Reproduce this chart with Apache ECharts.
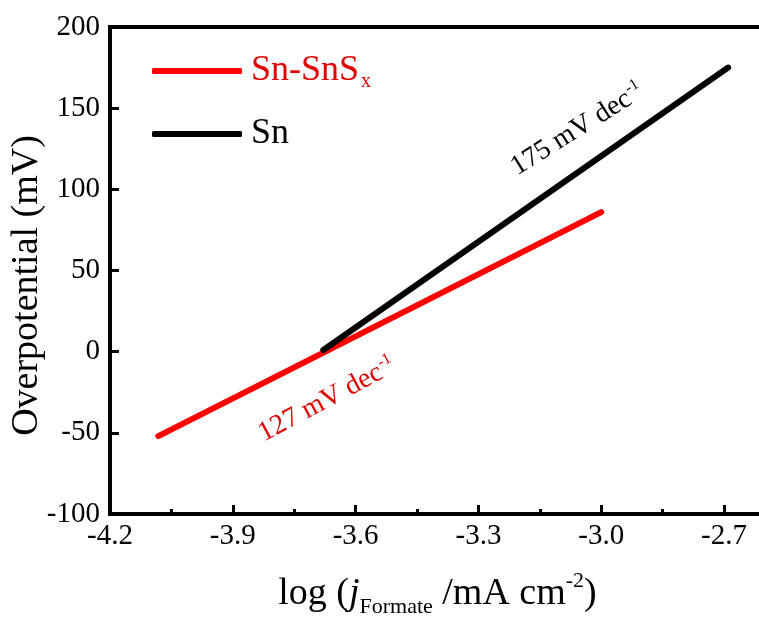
<!DOCTYPE html>
<html>
<head>
<meta charset="utf-8">
<script src="https://cdn.jsdelivr.net/npm/echarts@6/dist/echarts.min.js"></script>
<style>
  html, body { margin: 0; padding: 0; background: #fff; }
  #chart { width: 759px; height: 618px; }
</style>
</head>
<body>
<div id="chart"></div>
<script>
// Tafel fits: log(j_formate) vs overpotential
const snSnSxLogJ = [-4.082, -3.0];
const snSnSxEta = [-52, 86];
const snLogJ = [-3.679, -2.69];
const snEta = [1, 175];

const xMajorTicks = [-4.2, -3.9, -3.6, -3.3, -3.0, -2.7];
const xMinorTicks = [-4.05, -3.75, -3.45, -3.15, -2.85];

// slope annotations: [text, superscript, data x, data y, rotation deg, colour]
const slopeNotes = [
  ['175 mV dec', '-1', -3.058, 137, 32, '#000'],
  ['127 mV dec', '-1', -3.67, -29.6, 28, '#e00000']
];

const FONT = '"Liberation Serif", "Times New Roman", serif';
const RED = '#ff0000';

const chart = echarts.init(document.getElementById('chart'), null, { renderer: 'canvas' });

const pairs = (xs, ys) => xs.map((x, i) => [x, ys[i]]);

const option = {
  backgroundColor: '#fff',
  animation: false,
  grid: {
    left: 110, right: -6, top: 27, bottom: 104,
    containLabel: false,
    outerBoundsMode: 'none',
    show: true, borderColor: '#000', borderWidth: 4
  },
  legend: {
    orient: 'vertical',
    left: 147, top: 48,
    itemWidth: 90, itemHeight: 6,
    itemGap: 24,
    selectedMode: false,
    icon: 'roundRect',
    data: [
      { name: 'Sn-SnSx', textStyle: { color: '#e00000' } },
      { name: 'Sn', textStyle: { color: '#000' } }
    ],
    formatter: name => name === 'Sn-SnSx' ? '{a|Sn-SnS}{s|x}' : '{a|Sn}',
    textStyle: {
      fontFamily: FONT,
      padding: [0, 0, 0, 4],
      rich: {
        a: { fontFamily: FONT, fontSize: 36, lineHeight: 40 },
        s: { fontFamily: FONT, fontSize: 20, verticalAlign: 'bottom', padding: [22, 0, 0, 2] }
      }
    }
  },
  xAxis: [{
    type: 'value',
    min: -4.2, max: -2.6,
    position: 'bottom',
    splitLine: { show: false },
    axisLine: { onZero: false, lineStyle: { color: '#000', width: 4 } },
    axisTick: { inside: true, length: 9, lineStyle: { color: '#000', width: 3 }, customValues: xMajorTicks },
    axisLabel: {
      customValues: xMajorTicks,
      formatter: v => v.toFixed(1),
      color: '#000', fontFamily: FONT, fontSize: 29, margin: 8
    },
    name: '{t|log (}{i|j}{sub|Formate}{t| /mA cm}{sup|-2}{t|)}',
    nameLocation: 'middle',
    nameGap: 56,
    nameMoveOverlap: false,
    nameTextStyle: {
      color: '#000',
      rich: {
        t: { fontFamily: FONT, fontSize: 38, color: '#000' },
        i: { fontFamily: FONT, fontSize: 38, fontStyle: 'italic', color: '#000' },
        sub: { fontFamily: FONT, fontSize: 22, color: '#000', verticalAlign: 'bottom', padding: [26, 0, 0, 0] },
        sup: { fontFamily: FONT, fontSize: 22, color: '#000', verticalAlign: 'top', padding: [0, 0, 18, 0] }
      }
    }
  }, {
    type: 'value',
    min: -4.2, max: -2.6,
    position: 'bottom',
    splitLine: { show: false },
    axisLine: { show: false, onZero: false },
    axisLabel: { show: false },
    axisTick: { inside: true, length: 5, lineStyle: { color: '#000', width: 3 }, customValues: xMinorTicks }
  }],
  yAxis: {
    type: 'value',
    min: -100, max: 200, interval: 50,
    splitLine: { show: false },
    axisLine: { onZero: false, lineStyle: { color: '#000', width: 4 } },
    axisTick: { inside: true, length: 9, lineStyle: { color: '#000', width: 3 } },
    axisLabel: { color: '#000', fontFamily: FONT, fontSize: 29, margin: 10 },
    name: 'Overpotential (mV)',
    nameLocation: 'middle',
    nameGap: 64,
    nameMoveOverlap: false,
    nameTextStyle: { color: '#000', fontFamily: FONT, fontSize: 38, padding: [0, 30, 0, 0] }
  },
  series: [{
    name: 'Sn-SnSx',
    type: 'line',
    data: pairs(snSnSxLogJ, snSnSxEta),
    symbol: 'none',
    color: RED,
    lineStyle: { color: RED, width: 6, cap: 'round' }
  }, {
    name: 'Sn',
    type: 'line',
    data: pairs(snLogJ, snEta),
    symbol: 'none',
    color: '#000',
    lineStyle: { color: '#000', width: 6, cap: 'round' }
  }]
};

chart.setOption(option);

// place slope annotations at their data positions
const graphics = slopeNotes.map(([txt, sup, x, y, rot, col]) => {
  const p = chart.convertToPixel({ gridIndex: 0 }, [x, y]);
  return {
    type: 'text',
    x: p[0], y: p[1],
    rotation: rot * Math.PI / 180,
    style: {
      text: '{a|' + txt + '}{s|' + sup + '}',
      align: 'center', verticalAlign: 'middle',
      fill: col,
      rich: {
        a: { fontFamily: FONT, fontSize: 28, fill: col },
        s: { fontFamily: FONT, fontSize: 16, fill: col, verticalAlign: 'top', padding: [0, 0, 15, 1] }
      }
    }
  };
});
chart.setOption({ graphic: graphics });
</script>
</body>
</html>
